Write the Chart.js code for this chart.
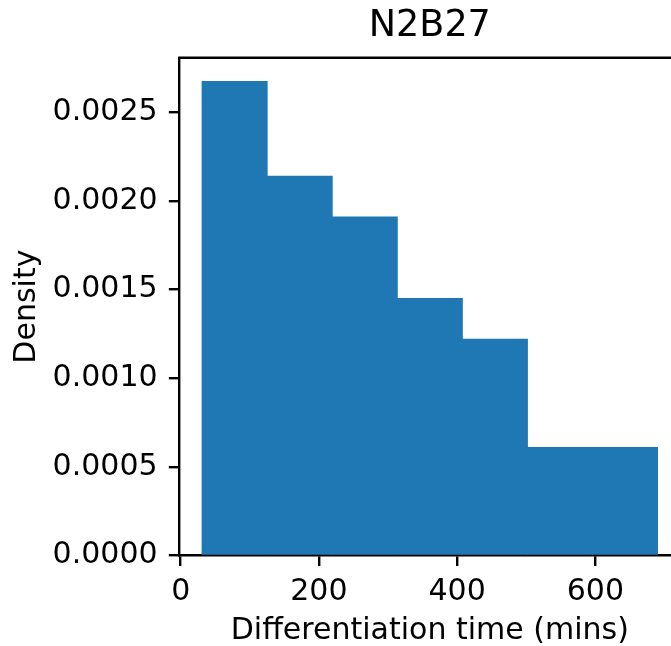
<!DOCTYPE html>
<html>
<head>
<meta charset="utf-8">
<script src="https://cdn.jsdelivr.net/npm/chart.js@4"></script>
<style>
  html, body { margin: 0; padding: 0; background: #fff; }
  #wrap { width: 671px; height: 646px; overflow: hidden; }
</style>
</head>
<body>
<div id="wrap"><canvas id="histChart" width="690" height="646"></canvas></div>
<script>
// histogram bins (mins) and density heights
const binEdges = [31.0, 125.1, 219.3, 313.4, 407.6, 501.7, 595.8, 690.0];
const density = [0.002675, 0.00214, 0.00191, 0.00145, 0.00122, 0.00061, 0.00061];
const xTicks = [0, 200, 400, 600];
const yTicks = [0, 0.0005, 0.0010, 0.0015, 0.0020, 0.0025];

const binCenters = density.map((_, i) => (binEdges[i] + binEdges[i + 1]) / 2);

Chart.defaults.font.family = "'DejaVu Sans', sans-serif";
Chart.defaults.color = '#000';

// matplotlib style frame: draw the top and right spines
const frame = {
  id: 'frame',
  afterDatasetsDraw(chart) {
    const { ctx, chartArea: a } = chart;
    ctx.save();
    ctx.strokeStyle = '#000';
    ctx.lineWidth = 2.4;
    ctx.beginPath();
    ctx.moveTo(a.left - 1.2, a.top);
    ctx.lineTo(a.right, a.top);
    ctx.lineTo(a.right, a.bottom);
    ctx.stroke();
    ctx.restore();
  }
};

const tickGrid = {
  offset: false,
  drawOnChartArea: false,
  drawTicks: true,
  tickLength: 10.5,
  tickWidth: 2.4,
  tickColor: '#000',
  lineWidth: 2.4
};

const ctx = document.getElementById('histChart').getContext('2d');
new Chart(ctx, {
  type: 'bar',
  data: {
    datasets: [{
      xAxisID: 'x',
      yAxisID: 'y',
      data: binCenters.map((x, i) => ({ x: x, y: density[i] })),
      backgroundColor: '#1f77b4',
      borderWidth: 0,
      inflateAmount: 0.5,
      barPercentage: 1,
      categoryPercentage: 1
    }]
  },
  plugins: [frame],
  options: {
    responsive: false,
    animation: false,
    devicePixelRatio: 1,
    layout: { padding: { right: 9.7 } },
    plugins: {
      legend: { display: false },
      tooltip: { enabled: false }
    },
    scales: {
      x: {
        type: 'linear',
        offset: false,
        min: -1.95,
        max: 722.95,
        afterBuildTicks: s => { s.ticks = xTicks.map(v => ({ value: v })); },
        afterFit: s => { s.height = 90.5; },
        ticks: {
          font: { size: 30 },
          padding: 8,
          maxRotation: 0,
          callback: v => String(v)
        },
        grid: tickGrid,
        border: { display: true, color: '#000', width: 2.4 },
        title: {
          display: true,
          text: 'Differentiation time (mins)',
          font: { size: 30, lineHeight: 1 },
          padding: { top: 0, bottom: 0 }
        }
      },
      y: {
        min: 0,
        max: 0.002809,
        afterBuildTicks: s => { s.ticks = yTicks.map(v => ({ value: v })); },
        afterFit: s => { s.width = 179.35; },
        ticks: {
          font: { size: 30 },
          padding: 11.3,
          callback: v => v.toFixed(4)
        },
        grid: tickGrid,
        border: { display: true, color: '#000', width: 2.4 },
        title: {
          display: true,
          text: 'Density',
          font: { size: 30, lineHeight: 1 },
          padding: { top: 12.5, bottom: 0 }
        }
      },
      // top axis only carries the title so it is centred over the plot area
      top: {
        type: 'linear',
        position: 'top',
        offset: false,
        min: -1.95,
        max: 722.95,
        afterFit: s => { s.height = 57.7; },
        ticks: { display: false },
        grid: { display: false },
        border: { display: false },
        title: {
          display: true,
          text: 'N2B27',
          font: { size: 36.5, lineHeight: 1 },
          padding: { top: 8, bottom: 0 }
        }
      }
    }
  }
});
</script>
</body>
</html>
